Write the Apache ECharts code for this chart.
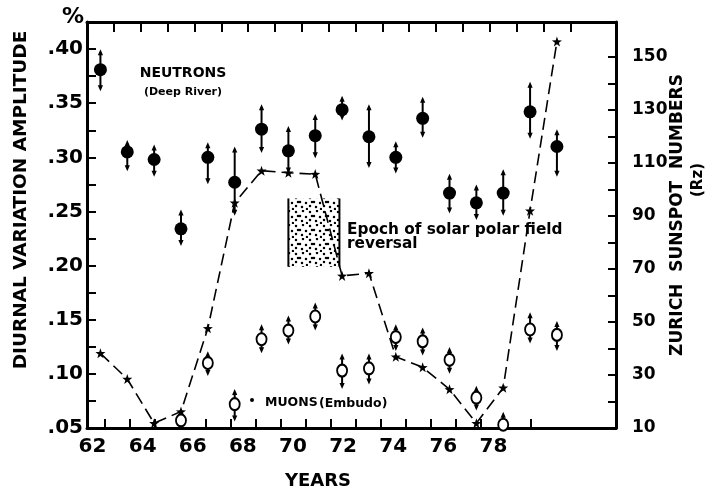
<!DOCTYPE html>
<html>
<head>
<meta charset="utf-8">
<script src="https://cdn.jsdelivr.net/npm/echarts@6/dist/echarts.min.js"></script>
<style>html,body{margin:0;padding:0;background:#fff}#c{width:719px;height:489px}</style>
</head>
<body>
<div id="c"></div>
<script>
// ---- data ----
const years = [62,63,64,65,66,67,68,69,70,71,72,73,74,75,76,77,78,79];
const neutronVal = [0.381,0.305,0.298,0.234,0.300,0.277,0.326,0.306,0.320,0.344,0.319,0.300,0.336,0.267,0.258,0.267,0.342,0.310];
const neutronHi  = [0.399,0.315,0.311,0.251,0.313,0.309,0.348,0.328,0.339,0.356,0.348,0.314,0.355,0.284,0.274,0.288,0.369,0.325];
const neutronLo  = [0.362,0.288,0.283,0.219,0.276,0.247,0.305,0.286,0.300,0.335,0.291,0.286,0.319,0.249,0.243,0.247,0.318,0.283];
const muonYears = [65,66,67,68,69,70,71,72,73,74,75,76,77,78,79];
const muonVal = [0.057,0.110,0.072,0.132,0.140,0.153,0.103,0.105,0.134,0.130,0.113,0.078,0.053,0.141,0.136];
const muonHi  = [0.057,0.120,0.085,0.145,0.153,0.165,0.118,0.118,0.145,0.142,0.124,0.088,0.064,0.156,0.148];
const muonLo  = [0.057,0.099,0.057,0.120,0.128,0.141,0.087,0.091,0.122,0.118,0.101,0.067,0.053,0.129,0.122];
const sunspot = [38.2,28.5,11.8,16.2,47.6,95.0,107.1,106.3,105.8,67.4,68.4,36.9,32.9,24.6,11.8,25.2,92.0,155.8];
const epochYears = [69.0, 70.9];
const epochRange = [0.199, 0.262];
// ---- tick labels ----
const xLabelYears = [62,64,66,68,70,72,74,76,78];
const xTickYears = [62.5,63.5,64.5,65.5,66.5,67.5,68.5,69.5,70.5,71.5,72.5,73.5,74.5,75.5,76.5,77.5,78.5,79.5];
const leftLabels = [0.05,0.10,0.15,0.20,0.25,0.30,0.35,0.40];
const leftTicks = [0.05,0.075,0.10,0.125,0.15,0.175,0.20,0.225,0.25,0.275,0.30,0.325,0.35,0.375,0.40];
const rightLabels = [10,30,50,70,90,110,130,150];
const rightTicks = [10,20,30,40,50,60,70,80,90,100,110,120,130,140,150];

const FONT = 'DejaVu Sans';
const chart = echarts.init(document.getElementById('c'));

// stipple pattern
const pat = document.createElement('canvas');
pat.width = 14; pat.height = 14;
(function(){
  const g = pat.getContext('2d');
  g.fillStyle = '#fff'; g.fillRect(0,0,14,14);
  g.fillStyle = '#000';
  [[2,2],[9,1],[6,6],[12,7],[2,10],[8,11],[13,13],[4,6]].forEach(p=>{g.beginPath();g.arc(p[0],p[1],1.25,0,Math.PI*2);g.fill();});
})();

function errBar(params, api){
  const x = api.value(0), lo = api.value(1), hi = api.value(2);
  const pLo = api.coord([x, lo]), pHi = api.coord([x, hi]);
  if (pLo[1] - pHi[1] < 2) return;
  const a = 2.6, l = 5;
  return {type:'group', children:[
    {type:'line', shape:{x1:pHi[0], y1:pHi[1]+2, x2:pLo[0], y2:pLo[1]-2}, style:{stroke:'#000', lineWidth:2}},
    {type:'polygon', shape:{points:[[pHi[0]-a,pHi[1]+l],[pHi[0]+a,pHi[1]+l],[pHi[0],pHi[1]-1]]}, style:{fill:'#000'}},
    {type:'polygon', shape:{points:[[pLo[0]-a,pLo[1]-l],[pLo[0]+a,pLo[1]-l],[pLo[0],pLo[1]+1]]}, style:{fill:'#000'}}
  ]};
}

const axisLine = {show:true, onZero:false, lineStyle:{color:'#000', width:3}};
const tickStyle = {color:'#000', width:2};
const labelBase = {color:'#000', fontFamily:FONT, fontWeight:'bold'};
const star = 'path://M10 0L12.35 6.76L19.51 6.91L13.8 11.24L15.88 18.09L10 14L4.12 18.09L6.2 11.24L0.49 6.91L7.65 6.76Z';

chart.setOption({
  animation:false,
  backgroundColor:'#fff',
  grid:{left:87, right:103, top:22, bottom:61, containLabel:false, outerBoundsMode:'none'},
  xAxis:[
    {type:'value', position:'bottom', min:61.78, max:82.89, axisLine:axisLine, splitLine:{show:false},
     axisTick:{show:true, inside:true, length:9, lineStyle:tickStyle, customValues:xTickYears},
     axisLabel:Object.assign({customValues:xLabelYears, fontSize:20, margin:9, formatter:v=>String(Math.round(v))}, labelBase)},
    {type:'value', position:'top', min:61.5, max:81.2, axisLine:axisLine, splitLine:{show:false},
     axisTick:{show:true, inside:true, length:10, lineStyle:tickStyle, customValues:xTickYears},
     axisLabel:{show:false}}
  ],
  yAxis:[
    {type:'value', position:'left', min:0.05, max:0.425, axisLine:axisLine, splitLine:{show:false},
     axisTick:{show:true, inside:true, length:9, lineStyle:tickStyle, customValues:leftTicks},
     axisLabel:Object.assign({customValues:leftLabels, fontSize:20, margin:4, formatter:v=>v.toFixed(2).replace(/^0/,'')}, labelBase)},
    {type:'value', position:'right', min:10, max:163.2, axisLine:axisLine, splitLine:{show:false},
     axisTick:{show:true, inside:true, length:8, lineStyle:tickStyle, customValues:rightTicks},
     axisLabel:Object.assign({customValues:rightLabels, fontSize:17, margin:16, formatter:v=>String(Math.round(v))}, labelBase)}
  ],
  series:[
    {type:'custom', xAxisIndex:1, yAxisIndex:0, z:1, silent:true,
     data:[[epochYears[0], epochYears[1], epochRange[0], epochRange[1]]],
     renderItem:function(params, api){
       const p0 = api.coord([api.value(0), api.value(3)]);
       const p1 = api.coord([api.value(1), api.value(2)]);
       return {type:'group', children:[
         {type:'rect', shape:{x:p0[0], y:p0[1], width:p1[0]-p0[0], height:p1[1]-p0[1]}, style:{fill:{image:pat, repeat:'repeat'}}},
         {type:'line', shape:{x1:p0[0], y1:p0[1], x2:p0[0], y2:p1[1]}, style:{stroke:'#000', lineWidth:2}},
         {type:'line', shape:{x1:p1[0], y1:p0[1], x2:p1[0], y2:p1[1]}, style:{stroke:'#000', lineWidth:2}}
       ]};
     }},
    {type:'line', xAxisIndex:1, yAxisIndex:1, z:3, data:years.map((y,i)=>[y, sunspot[i]]),
     symbol:star, symbolSize:10, showSymbol:true, itemStyle:{color:'#000', opacity:1},
     lineStyle:{color:'#000', width:1.6, type:[12,6]}},
    {type:'custom', xAxisIndex:1, yAxisIndex:0, z:4, data:years.map((y,i)=>[y, neutronLo[i], neutronHi[i]]), renderItem:errBar},
    {type:'scatter', xAxisIndex:1, yAxisIndex:0, z:5, data:years.map((y,i)=>[y, neutronVal[i]]),
     symbol:'circle', symbolSize:13, itemStyle:{color:'#000', opacity:1}},
    {type:'custom', xAxisIndex:1, yAxisIndex:0, z:4, data:muonYears.map((y,i)=>[y, muonLo[i], muonHi[i]]), renderItem:errBar},
    {type:'scatter', xAxisIndex:1, yAxisIndex:0, z:5, data:muonYears.map((y,i)=>[y, muonVal[i]]),
     symbol:'circle', symbolSize:[10,12], itemStyle:{color:'#fff', borderColor:'#000', borderWidth:2, opacity:1}}
  ],
  graphic:[
    {type:'text', x:73, y:17, style:{text:'%', font:'bold 22px '+FONT, fill:'#000', textAlign:'center', textVerticalAlign:'middle'}},
    {type:'text', x:21, y:200, rotation:Math.PI/2, style:{text:'DIURNAL VARIATION AMPLITUDE', font:'bold 18.5px '+FONT, fill:'#000', textAlign:'center', textVerticalAlign:'middle'}},
    {type:'text', x:678, y:215, rotation:Math.PI/2, style:{text:'ZURICH  SUNSPOT  NUMBERS', font:'bold 17px '+FONT, fill:'#000', textAlign:'center', textVerticalAlign:'middle'}},
    {type:'text', x:698, y:180, rotation:Math.PI/2, style:{text:'(Rz)', font:'bold 15px '+FONT, fill:'#000', textAlign:'center', textVerticalAlign:'middle'}},
    {type:'text', x:318, y:481, style:{text:'YEARS', font:'bold 18px '+FONT, fill:'#000', textAlign:'center', textVerticalAlign:'middle'}},
    {type:'text', x:183, y:73, style:{text:'NEUTRONS', font:'bold 14px '+FONT, fill:'#000', textAlign:'center', textVerticalAlign:'middle'}},
    {type:'text', x:183, y:92, style:{text:'(Deep River)', font:'bold 11px '+FONT, fill:'#000', textAlign:'center', textVerticalAlign:'middle'}},
    {type:'text', x:347, y:230, style:{text:'Epoch of solar polar field', font:'bold 15.3px '+FONT, fill:'#000', textAlign:'left', textVerticalAlign:'middle'}},
    {type:'text', x:347, y:244, style:{text:'reversal', font:'bold 15.3px '+FONT, fill:'#000', textAlign:'left', textVerticalAlign:'middle'}},
    {type:'circle', shape:{cx:252, cy:400, r:2}, style:{fill:'#000'}},
    {type:'text', x:265, y:403, style:{text:'MUONS', font:'bold 12.5px '+FONT, fill:'#000', textAlign:'left', textVerticalAlign:'middle'}},
    {type:'text', x:319, y:404, style:{text:'(Embudo)', font:'bold 12.5px '+FONT, fill:'#000', textAlign:'left', textVerticalAlign:'middle'}}
  ]
});
</script>
</body>
</html>
